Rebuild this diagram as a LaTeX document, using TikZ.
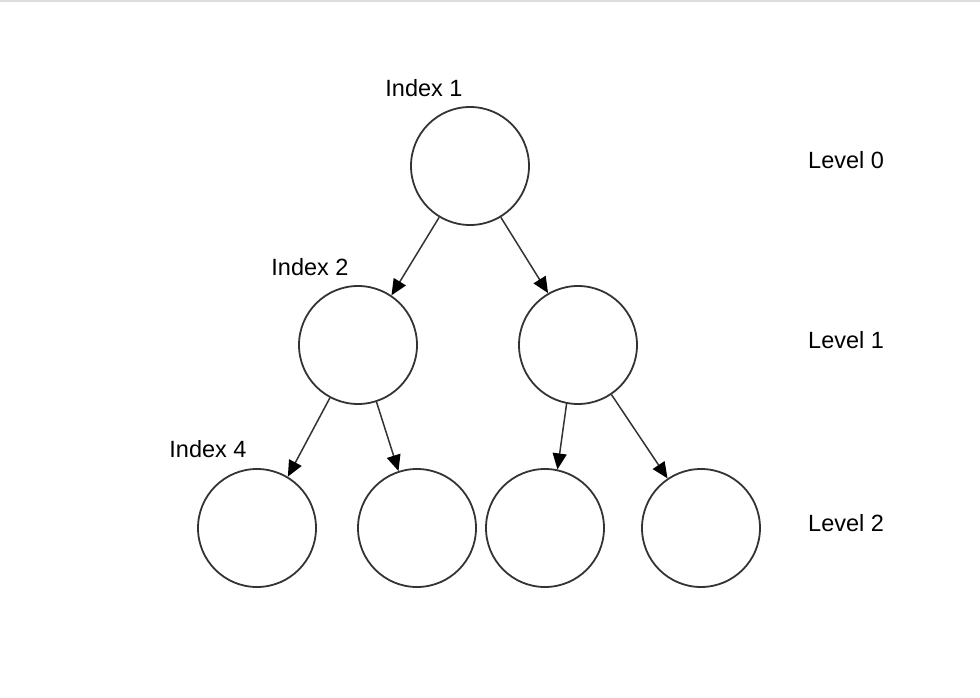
\documentclass[tikz,border=0pt]{standalone}
\usepackage{fontspec}
\setmainfont{Liberation Sans}
\usetikzlibrary{arrows.meta}
\definecolor{lineclr}{HTML}{333333}
\definecolor{rimclr}{HTML}{DDDDDD}

\begin{document}
\begin{tikzpicture}[x=1pt,y=1pt,yscale=-1,xscale=1,
  treenode/.style={draw=lineclr,line width=1.8pt,circle,minimum size=118pt,inner sep=0pt},
  edge/.style={draw=lineclr,line width=1.5pt,-{Triangle[length=16pt,width=14pt,color=black]}},
  lbl/.style={inner sep=0pt,font=\fontsize{23.5}{27}\selectfont}]
\useasboundingbox (0,0) rectangle (980,698);
%top rim
\draw [rimclr,line width=2.5pt] (0,1.2) -- (980,1.2) ;

%tree nodes
\node [treenode] (root) at (470,166) {};
\node [treenode] (ll) at (358,345) {};
\node [treenode] (lr) at (578,345) {};
\node [treenode] (lla) at (257,528) {};
\node [treenode] (llb) at (417,528) {};
\node [treenode] (lrc) at (545,528) {};
\node [treenode] (lrd) at (701,528) {};

%edges
\draw [edge] (root.239) -- (ll.56) ;
\draw [edge] (root.301) -- (lr.120) ;
\draw [edge] (ll.242) -- (lla.59) ;
\draw [edge] (ll.288) -- (llb.108) ;
\draw [edge] (lr.259) -- (lrc.78) ;
\draw [edge] (lr.304) -- (lrd.124) ;

% Text Node
\node [lbl] (idxa) at (424,88) {Index 1};
% Text Node
\node [lbl] (idxb) at (310,267) {Index 2};
% Text Node
\node [lbl] (idxd) at (208,449) {Index 4};
% Text Node
\node [lbl,anchor=west] (lvla) at (808,160) {Level 0};
% Text Node
\node [lbl,anchor=west] (lvlb) at (808,340) {Level 1};
% Text Node
\node [lbl,anchor=west] (lvlc) at (808,523) {Level 2};
\end{tikzpicture}
\end{document}
